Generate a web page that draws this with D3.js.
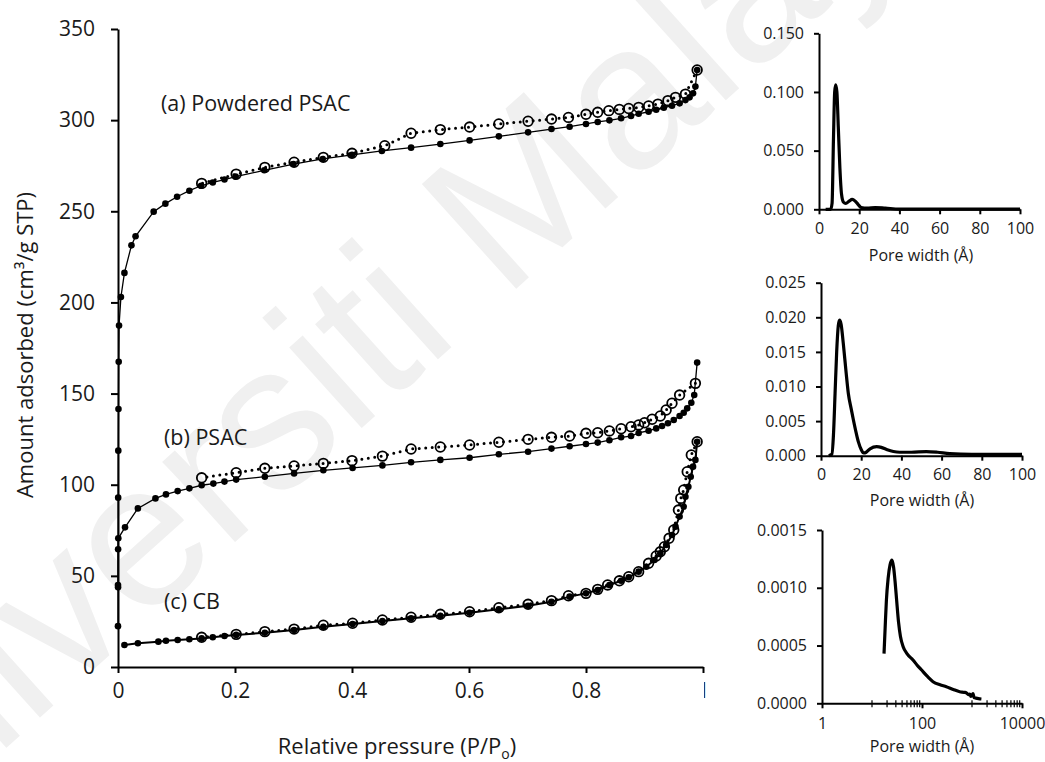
<!DOCTYPE html>
<html><head><meta charset="utf-8">
<script src="https://cdn.jsdelivr.net/npm/d3@7"></script>
<style>
html,body{margin:0;padding:0;background:#fff;}
text{font-family:"Open Sans",sans-serif;fill:#1a1a1a;}
</style></head>
<body><svg id="c" width="1045" height="762"></svg>
<script>
// ---------- DATA ----------
const xTicks = [0, 0.2, 0.4, 0.6, 0.8, 1];
const yTicks = [0, 50, 100, 150, 200, 250, 300, 350];
const seriesLabels = ["(a) Powdered PSAC", "(b) PSAC", "(c) CB"];

// (a) Powdered PSAC
const aAdsP = [0.0000,0.0001,0.0003,0.0005,0.0008,0.0012,0.0018,0.005,0.011,0.023,0.030,0.061,0.081,0.101,0.122,0.142,0.162,0.182,0.201,0.250,0.300,0.350,0.400,0.451,0.501,0.551,0.601,0.651,0.701,0.741,0.772,0.800,0.820,0.840,0.860,0.877,0.890,0.907,0.920,0.933,0.947,0.960,0.970,0.977,0.983,0.987,0.990];
const aAdsV = [22.4,43.7,92.9,118.7,141.5,167.4,187.3,203,216.2,231.3,236.3,249.8,254.2,258,261.3,264,265.8,267.4,269,272.5,275.9,278.7,281,283.1,284.9,286.9,288.9,291.1,293.3,295.1,296.4,297.9,299,299.9,301,302.3,303.5,304.6,305.7,306.8,307.9,309.2,311,312.5,314.7,318.4,327.5];
const aDesP = [0.990,0.970,0.953,0.940,0.923,0.907,0.890,0.873,0.857,0.839,0.820,0.800,0.770,0.741,0.701,0.651,0.601,0.551,0.501,0.456,0.400,0.351,0.301,0.251,0.202,0.143];
const aDesV = [327.5,314.3,312.5,310.7,308.8,307.8,307,306.4,305.9,305.2,304.3,303.2,301.5,300.6,299.4,297.9,296.2,294.8,292.8,286,281.8,279.6,276.9,274.1,270.4,265.3];

// (b) PSAC
const bAdsP = [0.0000,0.0002,0.0005,0.012,0.034,0.064,0.082,0.102,0.122,0.143,0.163,0.182,0.202,0.251,0.301,0.351,0.401,0.452,0.501,0.551,0.601,0.651,0.701,0.741,0.772,0.800,0.820,0.840,0.860,0.877,0.890,0.907,0.920,0.930,0.940,0.950,0.960,0.967,0.973,0.980,0.985,0.990];
const bAdsV = [45.0,64.6,70.6,76.6,87,92.5,94.7,96.5,98,99.7,100.6,101.7,102.8,104.4,106.2,107.9,109.2,110.6,112.3,113.6,114.8,116.7,118.1,119.8,121.1,122.3,123.1,124.4,126,126.7,128.4,129.6,130.9,132.2,133.7,135.5,137.7,139.5,141.9,145,149.2,167];
const bDesP = [0.987,0.960,0.947,0.937,0.927,0.913,0.900,0.890,0.877,0.860,0.840,0.820,0.800,0.772,0.741,0.701,0.651,0.601,0.551,0.501,0.452,0.400,0.351,0.301,0.251,0.202,0.143];
const bDesV = [155.6,149.2,144.7,141,137.7,135.9,134,132.8,131.8,130.7,129.5,128.5,128.2,126.7,126,124.9,123.3,121.8,120.7,119.6,115.7,113.2,111.7,110.3,109,106.6,103.8];

// (c) CB
const cAdsP = [0.011,0.034,0.069,0.082,0.102,0.122,0.143,0.162,0.182,0.202,0.251,0.301,0.351,0.401,0.452,0.501,0.551,0.601,0.651,0.701,0.741,0.772,0.800,0.820,0.840,0.860,0.873,0.890,0.903,0.917,0.927,0.937,0.947,0.953,0.960,0.967,0.970,0.975,0.979,0.983,0.987,0.990];
const cAdsV = [12.1,13,13.9,14.4,14.8,15.2,15.7,16.3,17,17.6,18.8,20.3,22.1,23.6,25.2,26.7,28.1,29.8,31.7,33.6,35.8,38.6,40.4,42.2,45,47.3,49.2,52.3,55,58.7,62.4,66.9,72.4,77,82.5,87.9,93.4,98.9,104.4,109.9,113.6,123.6];
const cDesP = [0.990,0.980,0.973,0.967,0.962,0.958,0.950,0.942,0.934,0.927,0.920,0.907,0.890,0.873,0.857,0.837,0.820,0.800,0.770,0.741,0.701,0.651,0.601,0.551,0.501,0.452,0.401,0.351,0.301,0.251,0.202,0.143];
const cDesV = [123.6,116.3,107.1,97.1,92.5,86.1,75.2,70.6,66,63.2,60.9,56.9,52.3,49.5,47.3,45,42.6,40.4,39.1,36.4,34.4,32.5,30.3,28.9,27.3,25.8,24,22.9,20.8,19.4,17.9,16.3];

// Inset 1: pore size distribution, Powdered PSAC
const psd1Ticks = [0, 0.05, 0.10, 0.15];
const psd1W = [3.3,5.8,6.5,7.2,7.8,8.3,8.9,9.6,10.4,11.2,12.2,13.3,15,16.5,18,19.5,21,24,28,33,40,60,80,100];
const psd1V = [0,0,0.005,0.06,0.1,0.106,0.1,0.07,0.035,0.013,0.006,0.005,0.007,0.0085,0.007,0.004,0.0015,0.001,0.0015,0.001,0.0002,0.0001,0.0001,0.0001];
// Inset 2: PSAC
const psd2Ticks = [0, 0.005, 0.010, 0.015, 0.020, 0.025];
const psd2W = [3.8,5.4,6.2,7.0,7.8,8.6,9.2,10,11.1,12.5,13.6,15,16.1,17.5,18.6,20,21.2,22.5,24.4,27.7,30,32.6,36,39.2,45,52.4,58,64,75,100];
const psd2V = [0,0.0002,0.003,0.009,0.015,0.0188,0.0196,0.019,0.0162,0.012,0.009,0.0068,0.0052,0.0033,0.002,0.0009,0.0004,0.0005,0.001,0.0013,0.0012,0.0009,0.0006,0.0005,0.0005,0.0006,0.0005,0.0003,0.0002,0.0002];
// Inset 3: CB (log axis)
const psd3Ticks = [0, 0.0005, 0.0010, 0.0015];
const psd3XTicks = [1, 100, 10000];
const psd3W = [17.4,18.3,19.4,21,23,25.1,27,29,31,34,37,42,50,66,80,97,130,166,230,307,420,568,700,773,850,900,950,1000,1047,1100,1200,1350,1542];
const psd3V = [0.00043,0.00065,0.00089,0.00108,0.0012,0.00124,0.00118,0.00105,0.0009,0.0007,0.00058,0.00049,0.00043,0.000375,0.00033,0.00029,0.00023,0.000187,0.00016,0.000144,0.00012,0.0001,0.000095,0.00009,0.000075,0.00008,0.00006,0.00007,0.000085,0.00005,0.000045,0.00004,0.000037];
const psdXTicks = [0, 20, 40, 60, 80, 100];

// ---------- DRAW ----------
const svg = d3.select("#c");
const defs = svg.append("defs");
const zip = (P, V) => P.map((p, i) => [p, V[i]]);

// watermark
svg.append("text")
  .attr("transform", "translate(415,380) rotate(-42)")
  .attr("text-anchor", "middle")
  .style("font-family", "'Liberation Sans', Arial, sans-serif")
  .style("font-size", "205px")
  .style("fill", "#f0f0f0")
  .text("Universiti Malaya");

const x = d3.scaleLinear().domain([0, 1]).range([118, 703]);
const y = d3.scaleLinear().domain([0, 350]).range([667, 29]);

// the "1" tick label is mostly hidden behind the inset panels
defs.append("clipPath").attr("id", "oneclip")
  .append("rect").attr("x", 0.5).attr("y", 0).attr("width", 2.5).attr("height", 60);

const gx = svg.append("g").attr("transform", "translate(0,667)")
  .call(d3.axisBottom(x).tickValues(xTicks).tickSize(6).tickSizeOuter(0).tickPadding(10)
    .tickFormat(d => d3.format("~g")(d)));
const gy = svg.append("g").attr("transform", "translate(118,0)")
  .call(d3.axisLeft(y).tickValues(yTicks).tickSize(7).tickSizeOuter(0).tickPadding(16));
[gx, gy].forEach(g => {
  g.selectAll("path,line").attr("stroke", "#000").attr("stroke-width", 2);
  g.selectAll("text").style("font-size", "21px").style("font-family", "'Open Sans',sans-serif").attr("fill", "#1a1a1a");
});
gx.selectAll(".tick").filter(d => d === 1).select("text").attr("clip-path", "url(#oneclip)");

const line = d3.line().x(d => x(d[0])).y(d => y(d[1]));

function drawSeries(adsP, adsV, desP, desV, lw) {
  const ads = zip(adsP, adsV), des = zip(desP, desV);
  svg.append("path").datum(des).attr("d", line).attr("fill", "none")
    .attr("stroke", "#000").attr("stroke-width", 3).attr("stroke-linecap", "round")
    .attr("stroke-dasharray", "0,6.5");
  svg.append("path").datum(ads).attr("d", line).attr("fill", "none")
    .attr("stroke", "#000").attr("stroke-width", lw);
  svg.append("g").selectAll("circle").data(des).join("circle")
    .attr("cx", d => x(d[0])).attr("cy", d => y(d[1])).attr("r", 4.8)
    .attr("fill", "none").attr("stroke", "#000").attr("stroke-width", 1.8);
  svg.append("g").selectAll("circle").data(ads).join("circle")
    .attr("cx", d => x(d[0])).attr("cy", d => y(d[1])).attr("r", 3.3).attr("fill", "#000");
}
drawSeries(aAdsP, aAdsV, aDesP, aDesV, 1.3);
drawSeries(bAdsP, bAdsV, bDesP, bDesV, 1.3);
drawSeries(cAdsP, cAdsV, cDesP, cDesV, 2);

// series labels
const labelPos = [[161, 111], [164, 445], [164, 609]];
svg.append("g").selectAll("text").data(seriesLabels).join("text")
  .attr("x", (d, i) => labelPos[i][0]).attr("y", (d, i) => labelPos[i][1])
  .style("font-size", "21.5px").text(d => d);

// axis titles
svg.append("text").attr("transform", "translate(33,345) rotate(-90)").attr("text-anchor", "middle")
  .style("font-size", "22px").text("Amount adsorbed (cm³/g STP)");
const xt = svg.append("text").attr("x", 397).attr("y", 754).attr("text-anchor", "middle").style("font-size", "22px");
xt.append("tspan").text("Relative pressure (P/P");
xt.append("tspan").attr("dy", 5).style("font-size", "14px").text("o");
xt.append("tspan").attr("dy", -5).text(")");

// ---------- INSETS ----------
function inset(opts) {
  const g = svg.append("g");
  const ax = g.append("g").attr("transform", `translate(0,${opts.y.range()[0]})`).call(opts.xAxis);
  const ay = g.append("g").attr("transform", `translate(${opts.x.range()[0]},0)`).call(opts.yAxis);
  [ax, ay].forEach(a => {
    a.selectAll("path,line").attr("stroke", "#000").attr("stroke-width", 2);
    a.selectAll("text").style("font-size", "16px").style("font-family", "'Open Sans',sans-serif").attr("fill", "#1a1a1a");
  });
  g.append("path").datum(zip(opts.w, opts.v))
    .attr("d", d3.line().curve(d3.curveMonotoneX).x(d => opts.x(d[0])).y(d => opts.y(d[1])))
    .attr("fill", "none").attr("stroke", "#000").attr("stroke-width", 3.2).attr("stroke-linejoin", "round");
  g.append("text").attr("x", opts.tx).attr("y", opts.ty).attr("text-anchor", "middle")
    .style("font-size", "16px").text("Pore width (Å)");
}

const x1 = d3.scaleLinear().domain([0, 100]).range([819, 1020]);
const y1 = d3.scaleLinear().domain([0, 0.15]).range([209.3, 33.3]);
inset({x: x1, y: y1, w: psd1W, v: psd1V, tx: 921, ty: 261,
  xAxis: d3.axisBottom(x1).tickValues(psdXTicks).tickSize(5).tickSizeOuter(0).tickPadding(8),
  yAxis: d3.axisLeft(y1).tickValues(psd1Ticks).tickSize(5).tickSizeOuter(0).tickPadding(10).tickFormat(d3.format(".3f"))});

const x2 = d3.scaleLinear().domain([0, 100]).range([821, 1022]);
const y2 = d3.scaleLinear().domain([0, 0.025]).range([455.7, 282.7]);
inset({x: x2, y: y2, w: psd2W, v: psd2V, tx: 922, ty: 506,
  xAxis: d3.axisBottom(x2).tickValues(psdXTicks).tickSize(5).tickSizeOuter(0).tickPadding(8),
  yAxis: d3.axisLeft(y2).tickValues(psd2Ticks).tickSize(5).tickSizeOuter(0).tickPadding(10).tickFormat(d3.format(".3f"))});

const x3 = d3.scaleLog().domain([1, 10000]).range([822, 1022]);
const y3 = d3.scaleLinear().domain([0, 0.0015]).range([703.3, 530]);
inset({x: x3, y: y3, w: psd3W, v: psd3V, tx: 922, ty: 752,
  xAxis: d3.axisBottom(x3).tickValues(psd3XTicks).tickSize(5).tickSizeOuter(0).tickPadding(9).tickFormat(d3.format("d")),
  yAxis: d3.axisLeft(y3).tickValues(psd3Ticks).tickSize(5).tickSizeOuter(0).tickPadding(10).tickFormat(d3.format(".4f"))});
// minor ticks on log axis
const minor3 = [];
[10, 1000].forEach(b => { for (let k = 1; k <= 9; k++) minor3.push(b * k); });
svg.append("g").selectAll("line").data(minor3).join("line")
  .attr("x1", d => x3(d)).attr("x2", d => x3(d))
  .attr("y1", y3(0) - 3).attr("y2", y3(0) + 4)
  .attr("stroke", "#000").attr("stroke-width", 1.2);
</script></body></html>
